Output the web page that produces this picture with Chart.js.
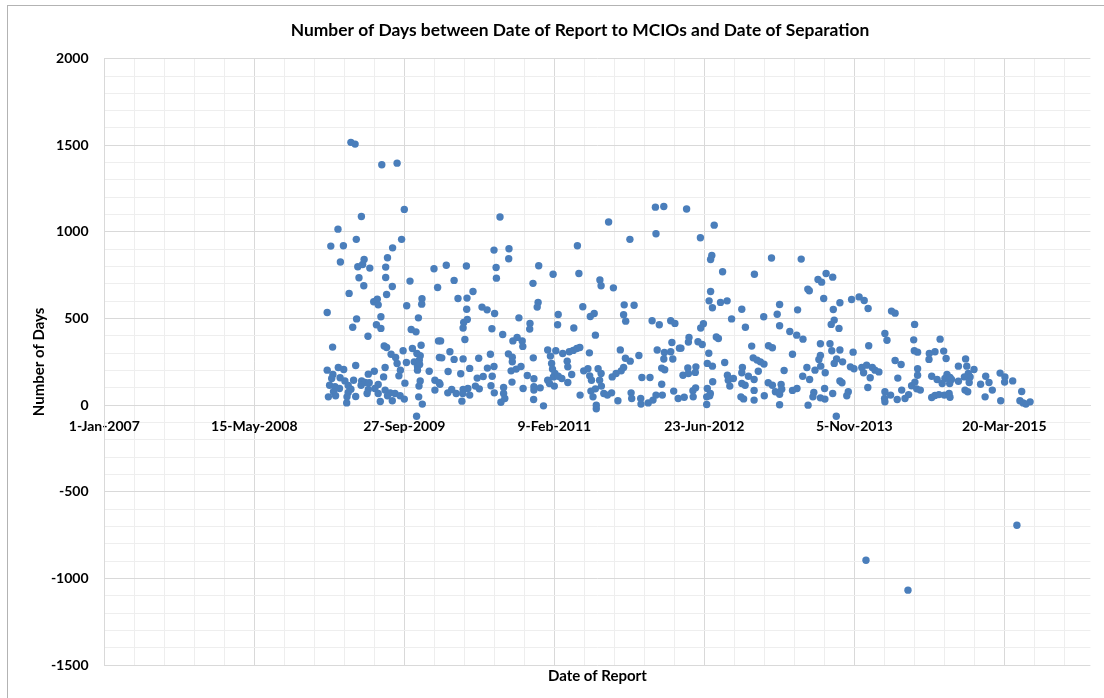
<!DOCTYPE html>
<html>
<head>
<meta charset="utf-8">
<script src="https://cdn.jsdelivr.net/npm/chart.js@4.4.1/dist/chart.umd.min.js"></script>
<style>
  html, body { margin: 0; padding: 0; background: #ffffff; overflow: hidden; }
  #frame { position: absolute; left: 7px; top: 5px; width: 1150px; height: 720px; border: 1px solid #b3b3b3; }
  #chart { position: absolute; left: 0; top: 0; }
</style>
</head>
<body>
<div id="frame"></div>
<canvas id="chart" width="1160" height="698"></canvas>
<script>
// X values are days counted from 1-Jan-2007 (the first axis tick).
const xTickLabels = ['1-Jan-2007', '15-May-2008', '27-Sep-2009', '9-Feb-2011', '23-Jun-2012', '5-Nov-2013', '20-Mar-2015'];
const xMajorStepDays = 500;
const xMinorStepDays = 100;
const xMaxDays = 3287;            // 1-Jan-2016
const yMin = -1500;
const yMax = 2000;
const yMajorStep = 500;
const yMinorStep = 100;

const chartTitle = 'Number of Days between Date of Report to MCIOs and Date of Separation';
const xAxisTitle = 'Date of Report';
const yAxisTitle = 'Number of Days';

// Date of report (days since 1-Jan-2007)
const reportDay = [
  822,836,925,976,1000,857,779,840,991,755,797,961,787,866,944,845,861,885,938,1099,
  849,938,1019,865,960,1111,816,941,898,910,913,1059,1058,1008,743,922,1047,841,828,907,
  922,1023,1039,879,1114,761,933,941,996,1027,1056,956,971,1042,1053,1007,1033,1050,1117,976,
  1044,1051,743,780,798,838,936,987,1083,1044,762,880,900,982,931,758,786,802,831,858,
  869,1002,1053,1102,751,769,813,856,883,913,1049,1116,784,822,880,902,936,1102,764,813,
  876,913,953,969,747,771,809,838,944,986,1000,1048,808,920,960,1060,1041,
  1319,1299,1349,1348,1140,1207,1306,1448,1307,1166,1496,1429,1229,1179,1209,1208,1259,1276,1301,1446,
  1443,1513,1198,1210,1196,1292,1382,1419,1418,1511,1202,1121,1328,1362,1376,1393,1395,1152,1125,1166,
  1196,1248,1287,1347,1360,1360,1430,1478,1505,1487,1146,1188,1218,1277,1299,1356,1373,1389,1491,1494,
  1502,1243,1263,1293,1410,1432,1478,1497,1513,1119,1158,1196,1212,1237,1250,1289,1331,1359,1396,1432,
  1453,1484,1500,1145,1173,1195,1218,1300,1331,1432,1192,1322,1335,1431,1464,
  1837,1865,1681,1839,1752,1577,1582,1652,1656,1697,1595,1733,1766,1620,1633,1731,1738,1565,1826,1850,
  1888,1902,1637,1892,1528,1550,1563,1575,1585,1617,1720,1782,1843,1867,1888,1865,1895,1917,1543,1545,
  1737,1753,1525,1558,1598,1612,1618,1646,1656,1693,1706,1723,1731,1858,1868,1545,1624,1651,1657,1792,
  1819,1858,1586,1622,1629,1637,1665,1677,1691,1712,1756,1758,1788,1789,1813,1829,1839,1860,1898,1913,
  1640,1640,
  1941,2033,1987,2025,2021,2224,2061,2167,2021,2016,2027,2054,2076,2251,2243,2311,2125,2198,2091,
  1997,1988,2137,2251,2285,2308,1949,1947,1922,1979,1993,2040,2047,2158,2214,2227,2294,2015,2068,2010,
  2027,2163,2176,2187,2199,2266,2127,2180,1929,1945,1972,1970,1947,2077,2080,2097,2125,2147,2166,2028,
  1971,1962,2010,2020,2085,2125,2136,2213,2227,2256,2258,2237,2294,2309,1933,1963,2008,2018,2122,2131,
  2166,2200,2166,2251,2008,2251,
  2323,2379,2391,2406,2428,2345,2350,2398,2452,2491,2516,2533,2546,2430,2433,2423,2449,2624,2636,2329,
  2387,2419,2425,2452,2496,2548,2602,2609,2701,2698,2700,2711,2387,2382,2441,2433,2461,2636,2656,2342,
  2369,2388,2403,2487,2499,2525,2531,2541,2560,2569,2582,2553,2711,2711,2328,2351,2452,2459,2645,2365,
  2401,2428,2480,2475,2545,2602,2621,2658,2681,2691,2702,2708,2362,2387,2402,2601,2602,2643,2669,2346,
  2440,
  2786,2750,2769,2798,2749,2806,2847,2871,2875,2899,2880,2886,2867,2758,2776,2809,2802,2819,2824,2847,
  2883,2938,2949,2921,2986,3002,3001,3028,2720,2793,2818,2960,2869,2878,3058,2758,2769,2782,2800,2819,
  2816,2936,2988,3052,3063,3072,3086,
  2539,2679,3042
];

// Days between date of report and date of separation
const daysToSeparation = [
  1517,1507,1388,1397,1130,1089,1016,957,957,918,920,908,826,841,851,799,812,791,797,787,
  735,737,716,689,685,679,645,639,597,612,579,614,583,574,535,510,504,498,450,464,
  443,437,423,398,371,335,342,333,314,327,346,294,275,298,285,246,250,260,275,240,
  223,235,202,217,206,229,217,202,196,202,177,179,196,169,163,154,158,140,144,140,
  131,127,140,144,115,106,113,115,129,119,110,129,96,92,90,96,87,87,77,73,
  67,67,71,67,48,54,48,50,54,54,35,48,13,21,25,6,-64,
  1086,895,903,845,808,803,795,805,733,720,756,703,656,616,618,554,566,550,529,593,
  566,523,477,495,445,441,504,472,439,464,379,371,408,371,391,371,339,308,273,264,
  267,271,294,296,277,250,273,318,314,283,194,181,212,214,223,198,208,223,241,208,
  183,156,165,167,171,152,144,163,167,121,90,90,96,110,94,112,102,133,96,106,
  100,125,110,71,67,67,58,71,67,87,23,17,38,33,-4,
  1143,1147,1057,989,957,920,760,722,689,677,568,579,577,512,529,522,485,445,487,464,
  487,472,404,362,298,308,316,327,333,302,319,287,318,304,308,266,266,329,254,221,
  271,254,154,177,198,210,169,210,183,163,183,198,217,214,204,131,144,144,110,160,
  160,121,58,81,48,94,67,58,71,25,71,38,38,6,13,29,58,58,81,38,
  0,-21,
  1132,1039,966,864,841,849,770,756,656,602,562,593,602,581,525,550,554,510,498,
  470,445,450,458,425,404,391,364,329,366,350,394,385,341,343,331,294,300,246,241,
  225,273,260,250,237,200,217,196,173,215,221,189,183,173,144,154,187,167,148,135,
  100,83,96,67,110,125,115,129,115,119,92,77,85,96,46,48,48,54,48,36,
  85,54,29,63,4,2,
  843,726,710,760,739,670,660,616,591,610,625,604,558,552,491,466,443,543,531,381,
  354,354,314,318,306,343,414,375,466,377,314,306,287,264,267,241,250,258,235,217,
  202,225,187,221,210,217,187,231,217,202,192,158,210,173,167,148,140,129,156,73,
  96,67,77,54,102,77,58,87,61,112,133,94,48,42,35,38,19,33,38,0,
  -64,
  381,298,308,312,264,269,225,267,225,206,183,163,163,167,148,177,154,160,148,138,
  131,167,131,121,185,163,133,140,87,125,125,87,87,77,79,44,56,61,58,46,
  67,48,25,25,13,6,19,
  -895,-1068,-693
];

const points = reportDay.map((d, i) => ({ x: d, y: daysToSeparation[i] }));

const tickFont = { family: 'Lato', size: 14, weight: 'bold' };
const axisTitleFont = { family: 'Lato', size: 15, weight: 'bold' };
const majorGrid = '#d9d9d9';
const minorGrid = '#eeeeee';

function xTicks(scale) {
  const ticks = [];
  for (let d = 0; d < xMaxDays - xMinorStepDays / 2; d += xMinorStepDays) ticks.push({ value: d });
  scale.ticks = ticks;
}

function yTicks(scale) {
  const ticks = [];
  for (let v = yMin; v <= yMax; v += yMinorStep) ticks.push({ value: v });
  scale.ticks = ticks;
}

function draw() {
  new Chart(document.getElementById('chart'), {
    type: 'scatter',
    data: {
      datasets: [{
        data: points,
        backgroundColor: '#4a7ebb',
        borderColor: '#4a7ebb',
        borderWidth: 0,
        pointRadius: 3.7,
        pointHoverRadius: 3.7
      }]
    },
    options: {
      responsive: false,
      animation: false,
      events: [],
      layout: { padding: 0 },
      plugins: {
        legend: { display: false },
        tooltip: { enabled: false },
        title: {
          display: true,
          text: chartTitle,
          color: '#000000',
          font: { family: 'Lato', size: 17.4, weight: 'bold' },
          padding: { top: 19.6, bottom: 18.2 }
        }
      },
      scales: {
        x: {
          type: 'linear',
          position: { y: 0 },
          min: 0,
          max: xMaxDays,
          afterBuildTicks: xTicks,
          grid: {
            drawTicks: false,
            color: (ctx) => (ctx.tick && ctx.tick.value % xMajorStepDays === 0) ? majorGrid : minorGrid
          },
          border: { display: true, color: majorGrid },
          ticks: {
            autoSkip: false,
            maxRotation: 0,
            padding: 12.5,
            color: '#000000',
            font: tickFont,
            callback: (v) => (v % xMajorStepDays === 0) ? xTickLabels[v / xMajorStepDays] : ''
          }
        },
        xTitle: {
          type: 'linear',
          axis: 'x',
          position: 'bottom',
          grid: { display: false, drawTicks: false },
          border: { display: false },
          ticks: { display: false },
          title: { display: true, text: xAxisTitle, color: '#000000', font: axisTitleFont, padding: { top: 0, bottom: 13 } },
          afterFit: (s) => { s.height = 33; }
        },
        y: {
          type: 'linear',
          position: 'left',
          min: yMin,
          max: yMax,
          afterBuildTicks: yTicks,
          grid: {
            drawTicks: false,
            color: (ctx) => (ctx.tick && ctx.tick.value % yMajorStep === 0) ? majorGrid : minorGrid
          },
          border: { display: true, color: majorGrid },
          ticks: {
            autoSkip: false,
            padding: 15.7,
            color: '#000000',
            font: tickFont,
            callback: (v) => (v % yMajorStep === 0) ? String(v) : ''
          },
          title: { display: true, text: yAxisTitle, color: '#000000', font: axisTitleFont, padding: { top: 30, bottom: 0 } },
          afterFit: (s) => { s.width = 104.3; }
        },
        // empty margin to the right of the plot area
        yMargin: {
          type: 'linear',
          axis: 'y',
          position: 'right',
          grid: { display: false, drawTicks: false },
          border: { display: false },
          ticks: { display: false },
          afterFit: (s) => { s.width = 69.6; }
        }
      }
    }
  });
}

if (document.fonts && document.fonts.load) {
  Promise.all([
    document.fonts.load('bold 15px Lato')
  ]).then(draw, draw);
} else {
  draw();
}
</script>
</body>
</html>
